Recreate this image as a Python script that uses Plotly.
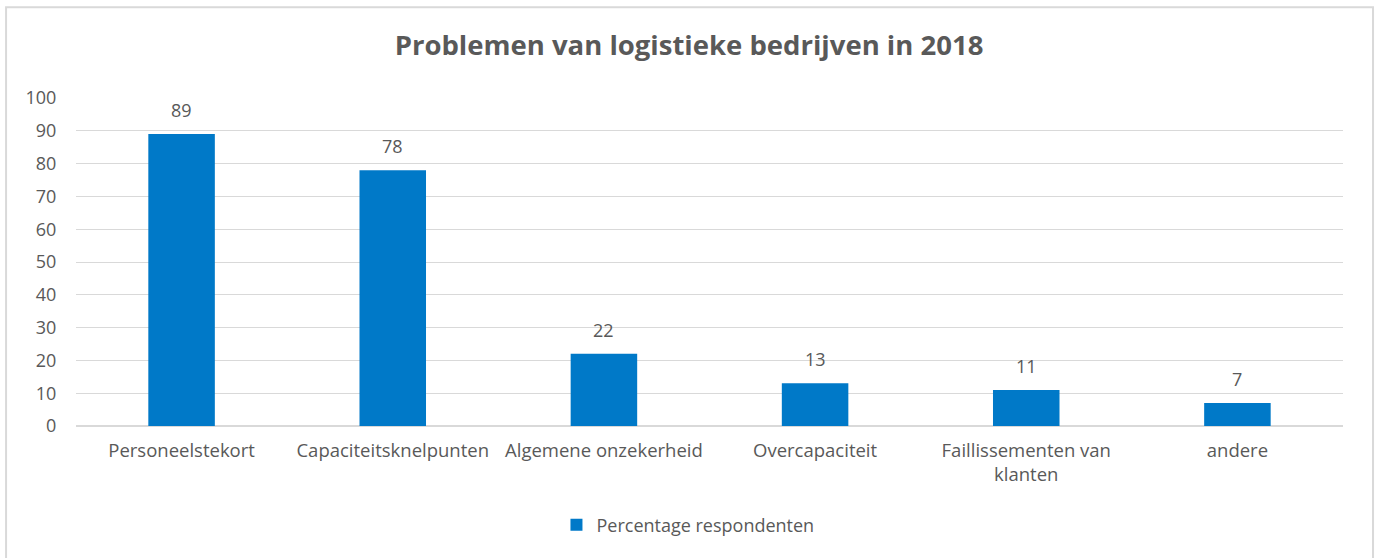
import plotly.graph_objects as go

categories = ["Personeelstekort", "Capaciteitsknelpunten", "Algemene onzekerheid",
              "Overcapaciteit", "Faillissementen van<br>klanten", "andere"]
values = [89, 78, 22, 13, 11, 7]
series_name = "Percentage respondenten"
title_text = "Problemen van logistieke bedrijven in 2018"

FONT = "Open Sans"
TXT = "#595959"
BAR = "#0079C8"
GRID = "#d9d9d9"

fig = go.Figure()
fig.add_trace(go.Bar(x=categories, y=values, name=series_name, marker_color=BAR,
                     marker_line_width=0, showlegend=True))

annotations = [dict(x=c, y=v, text=str(v), showarrow=False, yanchor="bottom", yshift=10,
                    font=dict(family=FONT, size=18, color=TXT))
               for c, v in zip(categories, values)]

fig.update_layout(
    width=1378, height=558,
    margin=dict(l=76, r=35, t=98, b=132, autoexpand=False),
    paper_bgcolor="white", plot_bgcolor="white",
    bargap=0.685,
    title=dict(text="<b>" + title_text + "</b>", x=0.5, xanchor="center", y=0.918, yanchor="middle",
               font=dict(family=FONT, size=27.5, color=TXT)),
    font=dict(family=FONT, size=18, color=TXT),
    xaxis=dict(showgrid=False, showline=False, ticks="outside", ticklen=8, tickcolor="rgba(0,0,0,0)",
               tickfont=dict(size=18.5, color=TXT)),
    yaxis=dict(range=[0, 100], dtick=10, showgrid=True, gridcolor=GRID, gridwidth=1,
               zeroline=True, zerolinecolor=GRID, zerolinewidth=2, showline=False,
               tickfont=dict(size=18, color=TXT), ticks="outside", ticklen=15, tickcolor="rgba(0,0,0,0)"),
    legend=dict(orientation="h", x=0.483, xanchor="center", y=-0.302, yanchor="middle",
                font=dict(size=18, color=TXT)),
    annotations=annotations,
    shapes=[dict(type="rect", xref="paper", yref="paper", x0=-0.0552, x1=1.0237, y0=-0.5, y1=1.277,
                 line=dict(color=GRID, width=2), layer="below")],
)
fig.write_html("out.html", config={"displayModeBar": False},
               post_script="document.body.style.margin='0';")
